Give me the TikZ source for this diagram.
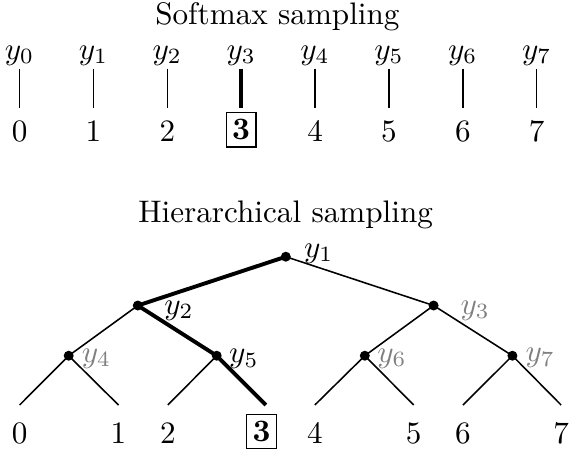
\documentclass[tikz,border=0pt]{standalone}
\begin{document}
\begin{tikzpicture}[x=0.321pt,y=-0.321pt,
  thinline/.style={line width=0.5pt},
  thickline/.style={line width=1.25pt},
  dot/.style={circle,fill=black,inner sep=0pt,minimum size=3.2pt},
  lab/.style={inner sep=0pt,anchor=base west},
  graylab/.style={lab,text=gray},
  num/.style={inner sep=0pt,anchor=base},
  boxnum/.style={draw,line width=0.4pt,inner xsep=1.9pt,inner ysep=2.3pt},
]
\useasboundingbox (0,0) rectangle (582,464);

% ---------- Softmax sampling ----------
\node[num] (title1) at (277.4,24) {Softmax sampling};
\foreach \i in {0,...,7}{
  \pgfmathsetmacro\xx{19.6+73.87*\i}
  \node[num] (y\i) at (\xx,59) {$y_{\i}$};
  \coordinate (a\i) at (\xx,68.5);
  \coordinate (b\i) at (\xx,107.5);
}
\foreach \i in {0,1,2,4,5,6,7}{
  \pgfmathsetmacro\xx{19.6+73.87*\i}
  \node[num] (s\i) at (\xx,141) {$\i$};
  \draw[thinline] (a\i) -- (b\i);
}
\node[boxnum] (s3) at (241.2,129.7) {$\mathbf{3}$};
\draw[thickline] (a3) -- (b3);

% ---------- Hierarchical sampling ----------
\node[num] (title2) at (285.6,222) {Hierarchical sampling};

\coordinate (r)  at (285.8,256.7);
\coordinate (n2) at (137.8,305.5);
\coordinate (n3) at (433.6,305.5);
\coordinate (n4) at (68.7,355.7);
\coordinate (n5) at (216.7,355.7);
\coordinate (n6) at (364.8,355.7);
\coordinate (n7) at (512.4,355.7);

\coordinate (l0) at (19.6,405);
\coordinate (l1) at (118.5,405);
\coordinate (l2) at (167.8,405);
\coordinate (l3) at (265.9,405);
\coordinate (l4) at (314.8,405);
\coordinate (l5) at (413.7,405);
\coordinate (l6) at (463.0,405);
\coordinate (l7) at (561.1,405);

% edges
\draw[thickline] (r) -- (n2);
\draw[thinline] (r) -- (n3);
\draw[thinline] (n2) -- (n4);
\draw[thickline] (n2) -- (n5);
\draw[thinline] (n3) -- (n6);
\draw[thinline] (n3) -- (n7);
\draw[thinline] (n4) -- (l0);
\draw[thinline] (n4) -- (l1);
\draw[thinline] (n5) -- (l2);
\draw[thickline] (n5) -- (l3);
\draw[thinline] (n6) -- (l4);
\draw[thinline] (n6) -- (l5);
\draw[thinline] (n7) -- (l6);
\draw[thinline] (n7) -- (l7);

% dots
\foreach \n in {r,n2,n3,n4,n5,n6,n7}{
  \node[dot] (d\n) at (\n) {};
}

% labels
\node[lab] (ly1) at (303.4,257.3) {$y_1$};
\node[lab] (ly2) at (163.8,314) {$y_2$};
\node[graylab] (ly3) at (460,314) {$y_3$};
\node[graylab] (ly4) at (81.2,362) {$y_4$};
\node[lab] (ly5) at (228.6,362.5) {$y_5$};
\node[graylab] (ly6) at (376.8,362) {$y_6$};
\node[graylab] (ly7) at (525,361.5) {$y_7$};

% leaf numbers
\node[num] (h0) at (l0 |- 0,443) {$0$};
\node[num] (h1) at (l1 |- 0,443) {$1$};
\node[num] (h2) at (l2 |- 0,443) {$2$};
\node[boxnum] (h3) at (261.5,431.5) {$\mathbf{3}$};
\node[num] (h4) at (l4 |- 0,443) {$4$};
\node[num] (h5) at (l5 |- 0,443) {$5$};
\node[num] (h6) at (l6 |- 0,443) {$6$};
\node[num] (h7) at (l7 |- 0,443) {$7$};
\end{tikzpicture}
\end{document}
